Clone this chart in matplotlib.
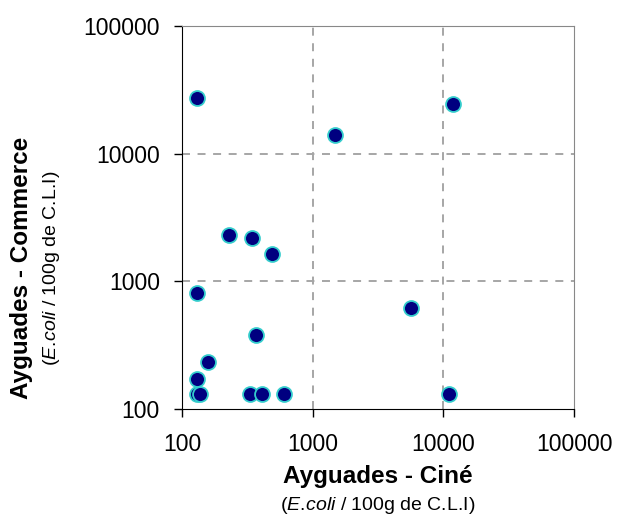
import matplotlib
matplotlib.use("Agg")
import matplotlib.pyplot as plt
from matplotlib.ticker import FixedLocator, NullLocator

plt.rcParams["font.family"] = "Liberation Sans"
plt.rcParams["mathtext.fontset"] = "custom"
plt.rcParams["mathtext.it"] = "Liberation Sans:italic"
plt.rcParams["mathtext.rm"] = "Liberation Sans"

# E.coli / 100g de C.L.I -- Ayguades Cine (x) vs Ayguades Commerce (y)
cine = [130, 137, 130, 157, 371, 331, 407, 607, 11000,
        130, 1480, 11900, 229, 341, 491, 130, 5620]
commerce = [130, 130, 171, 233, 382, 130, 130, 130, 130,
            27200, 14100, 24400, 2310, 2190, 1626, 809, 615]
ticks = [100, 1000, 10000, 100000]
tick_labels = ["100", "1000", "10000", "100000"]
grid_vals = [1000, 10000]

fig = plt.figure(figsize=(6.17, 5.16), dpi=100)
ax = fig.add_axes([182 / 617, 1 - 409 / 516, (574 - 182) / 617, (409 - 26) / 516])

ax.scatter(cine, commerce, s=115, color="#000080", edgecolors="#33CCCC",
           linewidths=1.3, zorder=3)

ax.set_xscale("log")
ax.set_yscale("log")
ax.set_xlim(100, 100000)
ax.set_ylim(100, 100000)
ax.xaxis.set_major_locator(FixedLocator(ticks))
ax.yaxis.set_major_locator(FixedLocator(ticks))
ax.xaxis.set_minor_locator(NullLocator())
ax.yaxis.set_minor_locator(NullLocator())
ax.set_xticklabels(tick_labels)
ax.set_yticklabels(tick_labels)
ax.tick_params(direction="out", length=6, width=1, labelsize=16.5)
ax.tick_params(axis="x", pad=11.5)
ax.tick_params(axis="y", pad=10)

# dashed grid only on the inner decades
for v in grid_vals:
    ax.axvline(v, color="#A6A6A6", linestyle=(0, (4.1, 3.9)), linewidth=1.4, zorder=1)
    ax.axhline(v, color="#A6A6A6", linestyle=(0, (4.1, 3.9)), linewidth=1.4, zorder=1)

for side in ["top", "right"]:
    ax.spines[side].set_color("#888888")
for side in ["left", "bottom"]:
    ax.spines[side].set_color("black")

sub = "(" + r"$\mathit{E.\!coli}$" + " / 100g de C.L.I)"
fig.text(378 / 617, 1 - 477 / 516, "Ayguades - Ciné", ha="center", va="center",
         fontsize=17.5, fontweight="bold")
fig.text(378 / 617, 1 - 505 / 516, sub, ha="center", va="center", fontsize=14)
fig.text(22 / 617, 1 - 268 / 516, "Ayguades - Commerce", ha="center", va="center",
         rotation=90, fontsize=17.5, fontweight="bold")
fig.text(51 / 617, 1 - 268 / 516, sub, ha="center", va="center",
         rotation=90, fontsize=14)

fig.savefig("out.png", dpi=100)
